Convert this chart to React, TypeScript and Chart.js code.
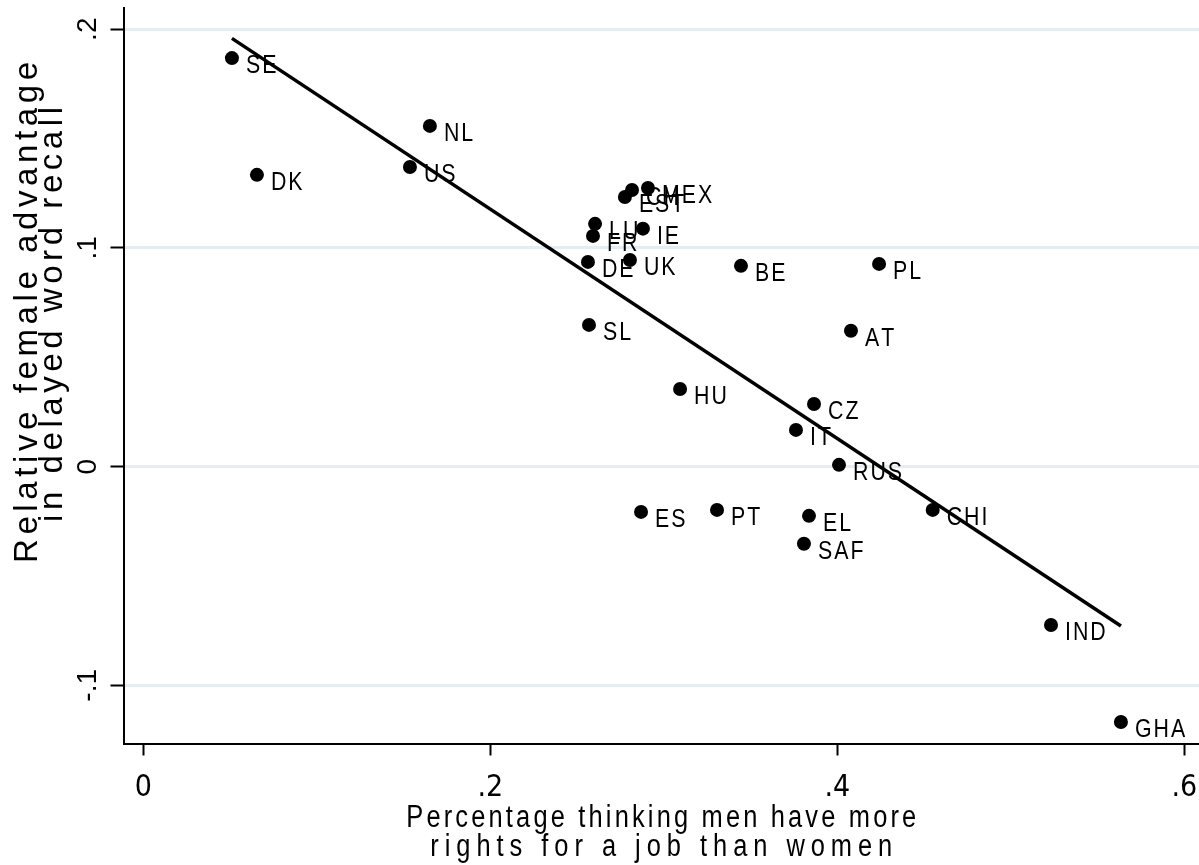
import React, { useEffect, useRef } from "react";
import { Chart, registerables } from "chart.js";

Chart.register(...registerables);

// ---- data ----
const countries = [
  "SE", "DK", "NL", "US", "LU", "FR", "DE", "UK", "EST", "CH", "MEX", "IE", "BE", "PL",
  "SL", "AT", "HU", "CZ", "IT", "RUS", "ES", "PT", "EL", "SAF", "CHI", "IND", "GHA",
];
const menMoreRights = [
  0.0511, 0.0655, 0.1652, 0.1537, 0.2604, 0.2592, 0.2563, 0.2805, 0.2776, 0.2817, 0.2909,
  0.288, 0.3445, 0.4241, 0.2569, 0.4079, 0.3094, 0.3866, 0.3762, 0.401, 0.2869, 0.3307,
  0.3837, 0.3808, 0.455, 0.5232, 0.5635,
];
const femaleAdvantage = [
  0.1868, 0.1334, 0.1558, 0.137, 0.111, 0.1055, 0.0936, 0.0945, 0.1233, 0.1265, 0.1274,
  0.1088, 0.0918, 0.0927, 0.0648, 0.0621, 0.0355, 0.0286, 0.0168, 0.0008, -0.0207, -0.0198,
  -0.0225, -0.0353, -0.0198, -0.0724, -0.1168,
];
const fitLineX = [0.0511, 0.5635];
const fitLineY = [0.1958, -0.0729];
const xTickValues = [0, 0.2, 0.4, 0.6];
const yTickValues = [-0.1, 0, 0.1, 0.2];
const xAxisTitle = ["Percentage thinking men have more", "rights for a job than women"];
const yAxisTitle = ["Relative female advantage", "in delayed word recall"];

const NARROW = "'Liberation Sans Narrow', 'Arial Narrow', 'DejaVu Sans Condensed', sans-serif";
const REG = "'Liberation Sans', Arial, sans-serif";
const SQUEEZE = 0.82;

function fmt(v: number): string {
  const r = Math.round(v * 10) / 10;
  if (r === 0) return "0";
  return String(r).replace("0.", ".");
}

function charsWidth(ctx: CanvasRenderingContext2D, text: string): number {
  let w = 0;
  for (const ch of text) w += ctx.measureText(ch).width;
  return w;
}

// draws text char by char, horizontally squeezed by sx, with extra spacing (in screen px)
function drawSpaced(
  ctx: CanvasRenderingContext2D,
  text: string,
  x: number,
  y: number,
  spacing: number,
  sx: number
) {
  ctx.save();
  ctx.translate(x, y);
  ctx.scale(sx, 1);
  let cx = 0;
  for (const ch of text) {
    ctx.fillText(ch, cx, 0);
    cx += ctx.measureText(ch).width + spacing / sx;
  }
  ctx.restore();
}

function drawFitted(
  ctx: CanvasRenderingContext2D,
  text: string,
  cx: number,
  y: number,
  target: number,
  sx: number
) {
  const n = [...text].length;
  const w = charsWidth(ctx, text) * sx;
  const sp = (target - w) / (n - 1);
  drawSpaced(ctx, text, cx - target / 2, y, sp, sx);
}

const textPlugin = {
  id: "stataText",
  afterDatasetDraw(chart: any, args: any) {
    if (args.index !== 1) return;
    const ctx: CanvasRenderingContext2D = chart.ctx;
    const meta = chart.getDatasetMeta(1);
    ctx.save();
    ctx.font = `26px ${REG}`;
    ctx.fillStyle = "#000";
    ctx.textBaseline = "alphabetic";
    ctx.textAlign = "left";
    meta.data.forEach((pt: any, i: number) => {
      drawSpaced(ctx, countries[i], pt.x + 14, pt.y + 15, 2, SQUEEZE);
    });
    ctx.restore();
  },
  afterDraw(chart: any) {
    const ctx: CanvasRenderingContext2D = chart.ctx;
    const area = chart.chartArea;
    ctx.save();
    ctx.fillStyle = "#000";
    ctx.textBaseline = "alphabetic";
    ctx.textAlign = "left";
    // x axis title
    ctx.font = `31px ${REG}`;
    const cx = (area.left + area.right) / 2;
    drawFitted(ctx, xAxisTitle[0], cx, 826.5, 510, SQUEEZE);
    drawFitted(ctx, xAxisTitle[1], cx, 856, 462, SQUEEZE);
    // y axis title
    ctx.font = `33px ${REG}`;
    ctx.save();
    ctx.translate(37, 312.5);
    ctx.rotate(-Math.PI / 2);
    drawFitted(ctx, yAxisTitle[0], 0, 0, 501, 1);
    ctx.restore();
    ctx.save();
    ctx.translate(62, 314.5);
    ctx.rotate(-Math.PI / 2);
    drawFitted(ctx, yAxisTitle[1], 0, 0, 415, 1);
    ctx.restore();
    ctx.restore();
  },
};

export default function App() {
  const canvasRef = useRef<HTMLCanvasElement | null>(null);

  useEffect(() => {
    if (!canvasRef.current) return;
    const chart = new Chart(canvasRef.current, {
      type: "scatter",
      data: {
        datasets: [
          {
            type: "line",
            data: fitLineX.map((x, i) => ({ x, y: fitLineY[i] })),
            borderColor: "#000",
            borderWidth: 3.5,
            pointRadius: 0,
            showLine: true,
            fill: false,
          } as any,
          {
            data: menMoreRights.map((x, i) => ({ x, y: femaleAdvantage[i] })),
            backgroundColor: "#000",
            borderColor: "#000",
            borderWidth: 0,
            pointRadius: 7,
          },
        ],
      },
      options: {
        animation: false,
        responsive: false,
        events: [],
        layout: { padding: { top: 8, left: 0, right: 0, bottom: 0 }, autoPadding: false } as any,
        plugins: { legend: { display: false }, tooltip: { enabled: false } },
        scales: {
          x: {
            type: "linear",
            min: -0.0114,
            max: 0.6085,
            afterBuildTicks: (s: any) => {
              s.ticks = xTickValues.map((v) => ({ value: v }));
            },
            afterFit: (s: any) => {
              s.height = 121.5;
              s.paddingLeft = 0;
              s.paddingRight = 0;
            },
            ticks: {
              callback: (v: any) => fmt(Number(v)),
              font: { family: NARROW, size: 30 },
              color: "#000",
              padding: 15,
              autoSkip: false,
              maxRotation: 0,
              minRotation: 0,
            },
            grid: {
              drawOnChartArea: false,
              drawTicks: true,
              tickLength: 12,
              tickColor: "#000",
              tickWidth: 2,
            },
            border: { display: true, color: "#000", width: 2 },
          },
          y: {
            type: "linear",
            min: -0.1266,
            max: 0.2097,
            afterBuildTicks: (s: any) => {
              s.ticks = yTickValues.map((v) => ({ value: v }));
            },
            afterFit: (s: any) => {
              s.width = 123.5;
              s.paddingTop = 0;
              s.paddingBottom = 0;
            },
            ticks: {
              callback: (v: any) => fmt(Number(v)),
              font: { family: REG, size: 28 },
              color: "#000",
              padding: 6,
              minRotation: 90,
              maxRotation: 90,
              crossAlign: "center",
              autoSkip: false,
            },
            grid: {
              color: "#e4eef0",
              lineWidth: 3,
              tickColor: "#000",
              tickWidth: 2,
              tickLength: 13,
            },
            border: { display: true, color: "#000", width: 2 },
          },
        },
      },
      plugins: [textPlugin],
    });
    return () => chart.destroy();
  }, []);

  return (
    <div style={{ position: "absolute", left: 0, top: 0, width: 1199, height: 865, background: "#fff" }}>
      <canvas ref={canvasRef} width={1199} height={865} style={{ display: "block" }} />
    </div>
  );
}
